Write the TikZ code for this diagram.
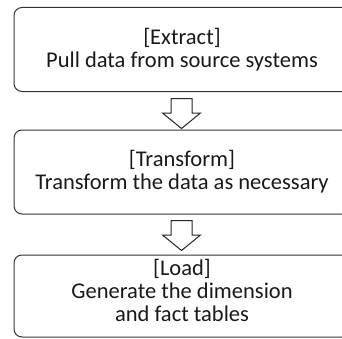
\documentclass[tikz,border=0pt]{standalone}
\usepackage{fontspec}
\setmainfont{Carlito}
\begin{document}
\begin{tikzpicture}[x=1pt,y=1pt,
  stage/.style={draw=black!80, line width=1pt, rounded corners=8pt,
    minimum width=336pt, minimum height=84pt, inner sep=0pt},
  stagetext/.style={align=center, inner sep=0pt, text=black!90,
    font=\fontsize{22.5}{23}\selectfont},
  flow/.style={draw=black!85, line width=1pt, fill=white, line join=miter}]
  \useasboundingbox (0,0) rectangle (342,338);
  \clip (0,0) rectangle (342,338);

  % the three ETL stages
  \node[stage] (extract) at (182,288.5) {};
  \node[stage] (transform) at (182,166) {};
  \node[stage, minimum height=82pt] (load) at (182,42) {};

  \node[stagetext] (extracttxt) at (extract.center) {[Extract]\\Pull data from source systems};
  \node[stagetext] (transformtxt) at (transform.center) {[Transform]\\Transform the data as necessary};
  \node[stagetext] (loadtxt) at ([yshift=5.5pt]load.center) {[Load]\\Generate the dimension\\and fact tables};

  % hollow block arrows between the stages
  \coordinate (step1) at ([xshift=-0.5pt,yshift=-6.5pt]extract.south);
  \coordinate (step2) at ([xshift=-0.5pt,yshift=-6pt]transform.south);
  \foreach \s in {step1,step2}
    \draw[flow] (\s) ++(-10.5,0) -- ++(21,0) -- ++(0,-14.5) -- ++(8.5,0)
      -- ++(-19,-15.5) -- ++(-19,15.5) -- ++(8.5,0) -- cycle;
\end{tikzpicture}
\end{document}
